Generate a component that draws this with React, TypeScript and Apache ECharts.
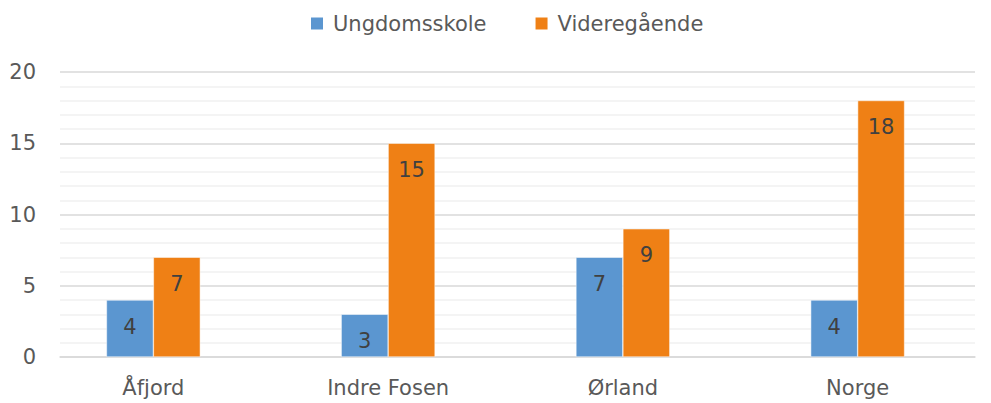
import React, { useEffect, useRef } from "react";
import * as echarts from "echarts";

const categories = ["Åfjord", "Indre Fosen", "Ørland", "Norge"];
const ungdomsskole = [4, 3, 7, 4];
const videregaende = [7, 15, 9, 18];
const seriesNames = ["Ungdomsskole", "Videregående"];

const FONT = "'DejaVu Sans', sans-serif";

export default function App() {
  const ref = useRef<HTMLDivElement>(null);
  useEffect(() => {
    document.body.style.margin = "0";
    const chart = echarts.init(ref.current!, null, { renderer: "svg" });
    const label = {
      show: true,
      position: "insideTop",
      distance: 16,
      color: "#404040",
      fontSize: 21,
      fontFamily: FONT,
    };
    chart.setOption({
      animation: false,
      textStyle: { fontFamily: FONT },
      legend: {
        top: 8,
        left: 304,
        itemWidth: 14,
        itemHeight: 14,
        itemGap: 47,
        icon: "rect",
        textStyle: { fontSize: 21, color: "#595959", fontFamily: FONT, padding: [0, 0, 0, 4] },
        data: seriesNames,
      },
      grid: [
        { left: 60, right: 16, top: 72, bottom: 46 },
        { left: 36, right: 16, top: 72, bottom: 46 },
      ],
      xAxis: [
        {
          type: "category",
          gridIndex: 0,
          data: categories,
          axisTick: { show: false },
          axisLabel: { show: false },
          axisLine: { lineStyle: { color: "#d9d9d9", width: 1.5 } },
        },
        {
          type: "category",
          gridIndex: 1,
          data: categories,
          axisTick: { show: false },
          axisLine: { show: false },
          axisLabel: { fontSize: 21, color: "#595959", margin: 20, fontFamily: FONT },
        },
      ],
      yAxis: [
        {
          type: "value",
          gridIndex: 0,
          min: 0,
          max: 20,
          interval: 5,
          axisLabel: { fontSize: 21, color: "#595959", margin: 24, fontFamily: FONT },
          splitLine: { lineStyle: { color: "#d9d9d9", width: 1.5 } },
          minorTick: { show: false, splitNumber: 5 },
          minorSplitLine: { show: true, lineStyle: { color: "#f0f0f0", width: 1.5 } },
        },
        {
          type: "value",
          gridIndex: 1,
          min: 0,
          max: 20,
          interval: 5,
          show: false,
          splitLine: { show: false },
        },
      ],
      series: [
        {
          name: seriesNames[0],
          type: "bar",
          xAxisIndex: 1,
          yAxisIndex: 1,
          data: ungdomsskole,
          barWidth: "20%",
          barGap: "0%",
          itemStyle: { color: "#5b96d0", borderColor: "#ffffff", borderWidth: 0.5 },
          label,
        },
        {
          name: seriesNames[1],
          type: "bar",
          xAxisIndex: 1,
          yAxisIndex: 1,
          data: videregaende,
          barWidth: "20%",
          barGap: "0%",
          itemStyle: { color: "#ef8015", borderColor: "#ffffff", borderWidth: 0.5 },
          label,
        },
      ],
    });
    return () => chart.dispose();
  }, []);
  return <div ref={ref} style={{ width: 991, height: 403 }} />;
}
